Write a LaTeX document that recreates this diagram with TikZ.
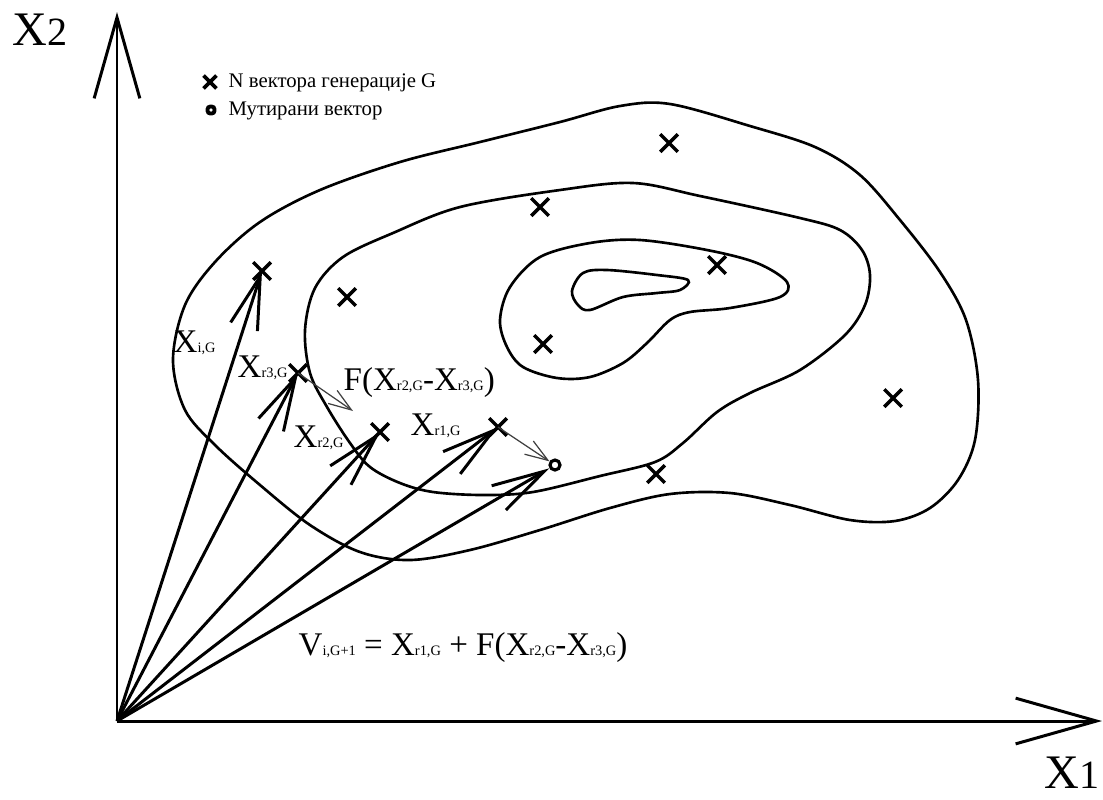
\documentclass[tikz,border=0pt]{standalone}
\usepackage{fontspec}
\setmainfont{Liberation Serif}
\usetikzlibrary{arrows.meta,shapes.misc}

\newcommand{\vsym}[2]{{\fontsize{9.4}{11}\selectfont #1}{\fontsize{4.1}{5}\selectfont #2}}

\begin{document}
\begin{tikzpicture}[
  x=0.01cm, y=-0.01cm,
  pointmark/.style={cross out, draw, line width=1pt, minimum size=0.14cm, inner sep=0pt},
  mutmark/.style={circle, draw, line width=0.9pt, minimum size=0.1cm, inner sep=0pt},
  axisarr/.style={line width=0.85pt, -{Straight Barb[length=23pt, width=13pt]}},
  vec/.style={line width=0.85pt, -{Straight Barb[length=15pt, width=8pt]}},
  diff/.style={line width=0.35pt, draw=black!75, -{Straight Barb[length=6.5pt, width=4.5pt]}},
  contour/.style={line width=0.75pt, smooth cycle, tension=0.55},
  lab/.style={inner sep=0pt, anchor=base west, font=\fontsize{9.4}{11}\selectfont},
  legtext/.style={inner sep=0pt, anchor=base west, font=\fontsize{5.9}{7}\selectfont}
]
\useasboundingbox (0,0) rectangle (1103,799);

% axes
\coordinate (O) at (117,721);
\coordinate (x1end) at (1102,721);
\coordinate (x2end) at (117,12);
\draw[axisarr] (O) -- (x1end);
\draw[axisarr] (O) -- (x2end);
\node[inner sep=0pt, anchor=base west] (x2lab) at (12,45) {{\fontsize{13.7}{15}\selectfont X}{\fontsize{11.4}{13}\selectfont 2}};
\node[inner sep=0pt, anchor=base west] (x1lab) at (1044,788) {{\fontsize{13.7}{15}\selectfont X}{\fontsize{11.4}{13}\selectfont 1}};

% level lines
\draw[contour] plot coordinates {(173,360) (185,305) (215,262) (260,222) (320,190) (400,162)
  (480,142) (560,122) (620,106) (670,104) (750,126) (815,147) (860,175) (900,220) (940,272)
  (966,320) (978,380) (975,440) (958,480) (930,508) (895,521) (850,520) (790,505) (730,493)
  (670,494) (610,508) (540,530) (470,550) (410,560) (360,552) (310,525) (260,485) (215,445)
  (185,410)};
\draw[contour] plot coordinates {(305,330) (315,288) (343,257) (393,233) (460,207) (560,190)
  (633,183) (700,196) (800,218) (840,230) (862,250) (870,275) (865,305) (845,335) (800,370)
  (750,393) (717,412) (683,443) (655,462) (600,476) (533,492) (483,495) (433,492) (400,483)
  (370,467) (350,443) (327,407) (310,373)};
\draw[contour] plot coordinates {(500,320) (510,287) (540,257) (590,243) (640,240) (707,250)
  (757,263) (787,282) (780,297) (730,308) (690,312) (670,320) (647,343) (623,363) (590,377)
  (557,378) (523,367) (507,347)};
\draw[contour] plot coordinates {(572,291) (583,273) (607,270) (657,275) (688,280) (680,290)
  (657,293) (623,297) (590,310) (578,305)};

% population
\node[pointmark] (xi)  at (262,271) {};
\node[pointmark] (xr3) at (298,373) {};
\node[pointmark] (xr2) at (380,432) {};
\node[pointmark] (xr1) at (498,427) {};
\node[pointmark] (p1)  at (347,297) {};
\node[pointmark] (p2)  at (540,207) {};
\node[pointmark] (p3)  at (543,344) {};
\node[pointmark] (p4)  at (669,143) {};
\node[pointmark] (p5)  at (717,265) {};
\node[pointmark] (p6)  at (893,398) {};
\node[pointmark] (p7)  at (656,474) {};
\node[mutmark]   (v)   at (555,465) {};

\draw[vec] (O) -- (xi.center);
\draw[vec] (O) -- (xr3.center);
\draw[vec] (O) -- (xr2.center);
\draw[vec] (O) -- (xr1.center);
\draw[vec] (O) -- (v);

\coordinate (fend) at (353,411);
\draw[diff] (xr3.center) -- (fend);
\draw[diff] (xr1.center) -- (v);

% labels
\node[lab] (lxi)  at (173,352) {\vsym{X}{i,G}};
\node[lab] (lxr3) at (237,377) {\vsym{X}{r3,G}};
\node[lab] (lxr2) at (293,447) {\vsym{X}{r2,G}};
\node[lab] (lxr1) at (410,435) {\vsym{X}{r1,G}};
\node[lab] (lf)   at (343,390) {F(\vsym{X}{r2,G}-\vsym{X}{r3,G})};
\node[lab] (leq)  at (298,655) {\vsym{V}{i,G+1} = \vsym{X}{r1,G} + F(\vsym{X}{r2,G}-\vsym{X}{r3,G})};

% legend
\node[cross out, draw, line width=1.1pt, minimum size=0.09cm, inner sep=0pt] (lgx) at (210,82) {};
\node[rectangle, rounded corners=0.8pt, draw, line width=1.1pt, minimum size=0.07cm, inner sep=0pt] (lgo) at (211,110) {};
\node[legtext] (lgxt) at (228,87) {N вектора генерације G};
\node[legtext] (lgot) at (228,115) {Мутирани вектор};
\end{tikzpicture}
\end{document}
